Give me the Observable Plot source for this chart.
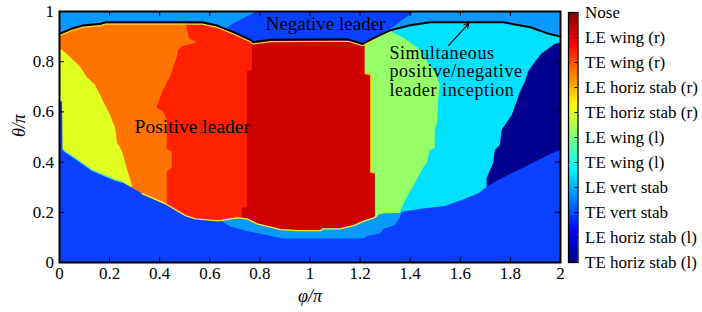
<!DOCTYPE html>
<html><head><meta charset="utf-8">
<script src="https://cdn.jsdelivr.net/npm/d3@7"></script>
<script src="https://cdn.jsdelivr.net/npm/@observablehq/plot@0.6"></script>
<style>
html,body{margin:0;padding:0;background:#fff;}
</style></head><body><div id="wrap"></div>
<script>
// ---------- categories / colour bar ----------
const categories = ["Nose","LE wing (r)","TE wing (r)","LE horiz stab (r)","TE horiz stab (r)","LE wing (l)","TE wing (l)","LE vert stab","TE vert stab","LE horiz stab (l)","TE horiz stab (l)"];
const jetStops  = [0, 0.125, 0.375, 0.625, 0.875, 1];
const jetColors = ["#000080","#0000ff","#00ffff","#ffff00","#ff0000","#800000"];

// region colours
const colTEhsR = "#e1ff1e";  // yellow
const colLEhsR = "#ff7400";  // orange
const colTEwR  = "#ff2100";  // red
const colLEwR  = "#cf0000";  // dark red
const colLEwL  = "#96ff68";  // green
const colTEwL  = "#00e0ff";  // cyan
const colLEvs  = "#0a99ff";  // light blue
const colTEvs  = "#0a40ff";  // blue
const colTEhsL = "#00008f";  // navy

// ---------- axes ----------
const phiTicks = [0,0.2,0.4,0.6,0.8,1,1.2,1.4,1.6,1.8,2];
const phiLabels = ["0","0.2","0.4","0.6","0.8","1","1.2","1.4","1.6","1.8","2"];
const thetaTicks = [0,0.2,0.4,0.6,0.8,1];
const thetaLabels = ["0","0.2","0.4","0.6","0.8","1"];

// ---------- region boundaries (phi/pi as function of theta/pi) ----------
const b1Theta = [1,0.85,0.845,0.83,0.811,0.778,0.738,0.705,0.665,0.625,0.586,0.534,0.474,0.446,0.375,0.31,0];
const b1Phi   = [0,0,0.012,0.03,0.05,0.084,0.11,0.144,0.164,0.184,0.204,0.224,0.232,0.25,0.27,0.29,0.29];
const b2Theta = [1,0.93,0.89,0.875,0.86,0.845,0.817,0.738,0.685,0.633,0.615,0.6,0.57,0.45,0.44,0.375,0.36,0];
const b2Phi   = [0.5,0.51,0.52,0.55,0.49,0.475,0.47,0.443,0.415,0.395,0.39,0.415,0.43,0.43,0.45,0.45,0.43,0.43];
const b3Theta = [1,0.765,0.76,0.22,0.215,0];
const b3Phi   = [0.77,0.77,0.75,0.75,0.73,0.73];
const b4Theta = [1,0.87,0.753,0.748,0.36,0.355,0.19,0];
const b4Phi   = [1.22,1.22,1.22,1.242,1.242,1.261,1.261,1.261];
const b5Theta = [1,0.925,0.896,0.853,0.797,0.757,0.705,0.637,0.558,0.526,0.454,0.446,0.398,0.375,0.339,0.299,0.267,0.227,0.195,0];
const b5Phi   = [1.3,1.31,1.37,1.434,1.47,1.5,1.52,1.513,1.51,1.5,1.5,1.48,1.47,1.453,1.433,1.413,1.393,1.373,1.36,1.36];
const b6Theta = [1,0.875,0.87,0.831,0.798,0.758,0.718,0.678,0.639,0.586,0.526,0.466,0.446,0.394,0.335,0];
const b6Phi   = [2,2,1.98,1.926,1.9,1.872,1.86,1.84,1.827,1.807,1.767,1.76,1.74,1.733,1.707,1.707];

// top of the lower blue region (theta/pi as function of phi/pi)
const bottomPhi   = [0,0.012,0.014,0.024,0.064,0.13,0.224,0.25,0.33,0.423,0.503,0.543,0.623,0.643,0.683,0.762,0.829,0.895,1.215,1.228,1.28,1.295,1.34,1.36,1.367,1.46,1.54,1.607,1.674,1.7,1.74,1.834,1.913,1.967,2];
const bottomTheta = [0.64,0.64,0.45,0.44,0.413,0.367,0.327,0.32,0.274,0.234,0.187,0.174,0.167,0.167,0.141,0.121,0.108,0.094,0.094,0.104,0.114,0.131,0.147,0.175,0.2,0.214,0.223,0.247,0.274,0.294,0.32,0.367,0.406,0.433,0.446];
// lower edge of the red regions above the light-blue strip
const stripPhi   = [0.62,0.643,0.709,0.749,0.789,0.842,0.882,0.949,1.042,1.054,1.12,1.175,1.215,1.255,1.268,1.3,1.36,1.38];
const stripTheta = [0.167,0.167,0.178,0.174,0.154,0.141,0.131,0.127,0.127,0.134,0.134,0.147,0.165,0.178,0.187,0.194,0.195,0.2];

// black boundary line (leader inception limit)
const linePhi   = [0,0.044,0.092,0.164,0.184,0.57,0.63,0.695,0.762,0.774,0.842,1.15,1.21,1.26,1.32,1.4,1.48,1.772,1.88,1.95,2];
const lineTheta = [0.911,0.93,0.944,0.951,0.957,0.957,0.944,0.918,0.887,0.878,0.887,0.889,0.871,0.897,0.925,0.945,0.957,0.957,0.937,0.912,0.9];

// negative leader region (top)
const negPhi  = [0.67,0.695,0.762,0.774,0.79,0.842,1.15,1.21,1.26,1.31,1.42];
const negLow  = [0.935,0.918,0.887,0.878,0.88,0.887,0.889,0.871,0.897,0.92,1.0];
const negHigh = [0.935,0.95,0.985,0.99,1,1,1,1,1,1,1];

// annotations
const arrowTail = [1.553, 0.8645];
const arrowHead = [1.634, 0.953];

const phiMax = 2, thetaMax = 1;
const ff = "Liberation Serif";

const idx = a => (d,i) => a[i];

const main = Plot.plot({
  width: 702, height: 312,
  marginLeft: 59, marginRight: 142, marginTop: 11, marginBottom: 50,
  x: {domain: [0, phiMax]},
  y: {domain: [0, thetaMax]},
  marks: [
    Plot.frame({fill: colTEhsR, stroke: null}),
    Plot.areaX(b1Theta, {y: d => d, x1: idx(b1Phi), x2: phiMax, fill: colLEhsR}),
    Plot.areaX(b2Theta, {y: d => d, x1: idx(b2Phi), x2: phiMax, fill: colTEwR}),
    Plot.areaX(b3Theta, {y: d => d, x1: idx(b3Phi), x2: phiMax, fill: colLEwR}),
    Plot.areaX(b4Theta, {y: d => d, x1: idx(b4Phi), x2: phiMax, fill: colLEwL}),
    Plot.areaX(b5Theta, {y: d => d, x1: idx(b5Phi), x2: phiMax, fill: colTEwL}),
    Plot.areaX(b6Theta, {y: d => d, x1: idx(b6Phi), x2: phiMax, fill: colTEhsL}),
    // thin boundary artefacts
    Plot.line(b4Theta.filter(t => t < 0.87 && t > 0.19), {y: d => d, x: d => b4Phi[b4Theta.indexOf(d)], stroke: "#ffb400", strokeWidth: 1.3}),
    // light blue strip and lower blue region
    Plot.areaY(stripPhi, {x: d => d, y1: 0, y2: idx(stripTheta), fill: colLEvs}),
    Plot.line(stripPhi.filter(p => p <= 1.27), {x: d => d, y: d => stripTheta[stripPhi.indexOf(d)], stroke: "#f2e838", strokeWidth: 1.4}),
    Plot.areaY(bottomPhi, {x: d => d, y1: 0, y2: idx(bottomTheta), fill: colTEvs}),
    Plot.line(bottomPhi.filter(p => p >= 0.29 && p <= 0.643), {x: d => d, y: d => bottomTheta[bottomPhi.indexOf(d)], stroke: "#f2e838", strokeWidth: 1.4}),
    Plot.line(bottomPhi.filter(p => p >= 0.014 && p <= 0.29), {x: d => d, y: d => bottomTheta[bottomPhi.indexOf(d)], stroke: "#30d8f0", strokeWidth: 1.2}),
    // top band
    Plot.areaY(linePhi, {x: d => d, y1: idx(lineTheta), y2: thetaMax, fill: colLEvs}),
    Plot.areaY(negPhi, {x: d => d, y1: idx(negLow), y2: idx(negHigh), fill: colTEvs}),
    Plot.line(linePhi.filter(p => p <= 1.26), {x: d => d, y: d => lineTheta[linePhi.indexOf(d)], dy: 1.8, stroke: "#e8e030", strokeWidth: 1.3}),
    Plot.line(linePhi, {x: d => d, y: idx(lineTheta), stroke: "black", strokeWidth: 2}),
    // ticks (inward, all four sides)
    Plot.tickX(phiTicks.slice(1, -1), {x: d => d, insetTop: 246, stroke: "black", strokeWidth: 1}),
    Plot.tickX(phiTicks.slice(1, -1), {x: d => d, insetBottom: 246, stroke: "black", strokeWidth: 1}),
    Plot.tickY(thetaTicks.slice(1, -1), {y: d => d, insetRight: 496, stroke: "black", strokeWidth: 1}),
    Plot.tickY(thetaTicks.slice(1, -1), {y: d => d, insetLeft: 496, stroke: "black", strokeWidth: 1}),
    Plot.axisX(phiTicks, {tickSize: 0, tickPadding: 4, tickFormat: d => phiLabels[phiTicks.indexOf(d)], label: null, fontSize: 17, fontFamily: ff}),
    Plot.axisY(thetaTicks, {tickSize: 0, tickPadding: 5.5, tickFormat: d => thetaLabels[thetaTicks.indexOf(d)], label: null, fontSize: 17, fontFamily: ff}),
    Plot.text(["φ/π"], {text: d => d, frameAnchor: "bottom", dy: 39, lineAnchor: "bottom", fontStyle: "italic", fontSize: 18, fontFamily: ff}),
    Plot.text(["θ/π"], {text: d => d, frameAnchor: "left", dx: -40, rotate: -90, fontStyle: "italic", fontSize: 18, fontFamily: ff}),
    // annotations
    Plot.text(["Negative leader"], {x: [1.062], y: [0.926], text: d => d, lineAnchor: "bottom", textAnchor: "middle", fontSize: 19, fontFamily: ff}),
    Plot.text(["Positive leader"], {x: [0.53], y: [0.514], text: d => d, lineAnchor: "bottom", textAnchor: "middle", fontSize: 19.5, fontFamily: ff}),
    Plot.text(["Simultaneous\npositive/negative\nleader inception"], {x: [1.317], y: [0.6625], text: d => d, lineAnchor: "bottom", textAnchor: "start", fontSize: 18, fontFamily: ff, lineHeight: 1.04}),
    Plot.arrow([0], {x1: arrowTail[0], y1: arrowTail[1], x2: arrowHead[0], y2: arrowHead[1], stroke: "black", strokeWidth: 1.1, headLength: 7}),
    Plot.frame({stroke: "black", strokeWidth: 2})
  ]
});

// ---------- colour bar ----------
const jet = d3.scaleLinear().domain(jetStops).range(jetColors).clamp(true);
const cbValues = [1,2,3,4,5,6,7,8,9,10,11];
const cbRamp = d3.range(1, 11, 0.04);   // sampling of the colour ramp
const cb = Plot.plot({
  width: 140, height: 312,
  marginLeft: 6, marginRight: 124.5, marginTop: 12, marginBottom: 50,
  x: {domain: [0, 1], axis: null},
  y: {domain: [1, 11]},
  color: {type: "linear", domain: [1, 11], interpolate: t => jet(t)},
  marks: [
    Plot.rect(cbRamp, {x1: 0, x2: 1, y1: d => d, y2: d => Math.min(11, d + 0.05), fill: d => d + 0.02}),
    Plot.tickY(cbValues.slice(1, -1), {y: d => d, insetLeft: 6.5, stroke: "black", strokeWidth: 1}),
    Plot.axisY(cbValues, {anchor: "right", tickSize: 0, tickPadding: 7, tickFormat: d => categories[11 - d], label: null, fontSize: 17, fontFamily: ff}),
    Plot.frame({stroke: "black", strokeWidth: 1.3})
  ]
});

// merge the colour bar into the chart's single SVG
const g = document.createElementNS("http://www.w3.org/2000/svg", "g");
g.setAttribute("transform", "translate(562,0)");
for (const child of [...cb.childNodes]) g.appendChild(child);
main.appendChild(g);

// slightly wider letter spacing for the multi-line annotation (LaTeX font is wider)
for (const t of main.querySelectorAll("text")) {
  if (t.textContent.includes("Simultaneous")) t.style.letterSpacing = "0.6px";
}
document.getElementById("wrap").appendChild(main);
</script>
</body></html>
